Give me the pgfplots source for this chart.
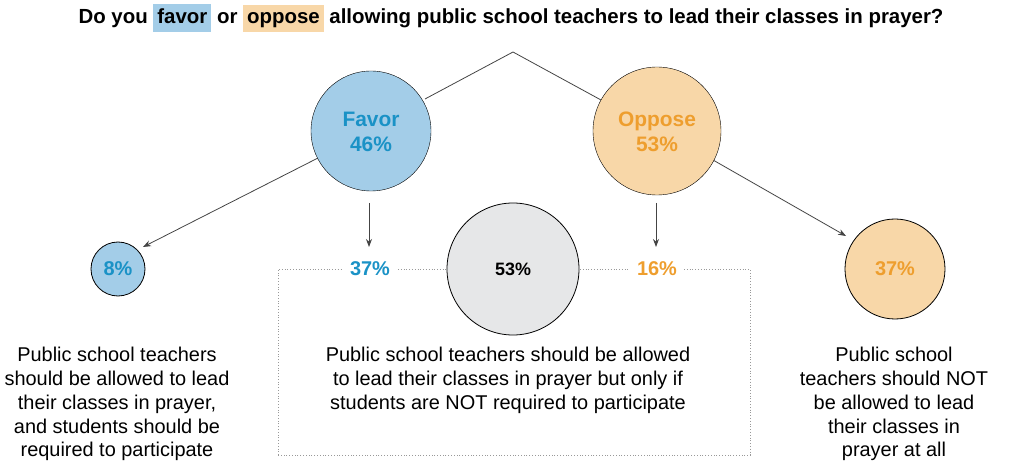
\documentclass[border=0pt]{standalone}
\usepackage{pgfplots}
\pgfplotsset{compat=1.18}
\usepackage{fontspec}
\setmainfont{Liberation Sans}
\usetikzlibrary{arrows.meta}
\definecolor{favfill}{HTML}{A3CDE8}
\definecolor{favtext}{HTML}{1A92C6}
\definecolor{oppfill}{HTML}{F8D7A8}
\definecolor{opptext}{HTML}{EE9E2E}
\definecolor{grayfill}{HTML}{E6E7E8}
\definecolor{linegray}{HTML}{444444}
\begin{document}
\begin{tikzpicture}
\begin{axis}[
  width=1024bp, height=466bp, scale only axis,
  xmin=0, xmax=1024, ymin=0, ymax=466, y dir=reverse,
  hide axis, clip=false, set layers,
]
% bubbles: center x, center y, radius in px
\addplot[only marks, mark=*, mark size=60bp, mark options={fill=favfill, draw=none}] coordinates {(371,131)};
\addplot[only marks, mark=*, mark size=64bp, mark options={fill=oppfill, draw=none}] coordinates {(657,131)};
\addplot[only marks, mark=*, mark size=27bp, mark options={fill=favfill, draw=black, line width=0.8bp}] coordinates {(118,269)};
\addplot[only marks, mark=*, mark size=66bp, mark options={fill=grayfill, draw=black, line width=0.8bp}] coordinates {(513,269)};
\addplot[only marks, mark=*, mark size=50bp, mark options={fill=oppfill, draw=black, line width=0.8bp}] coordinates {(895,269)};
% tree lines
\addplot[linegray, line width=0.8bp] coordinates {(425,99) (513,52) (601,100)};
\addplot[linegray, line width=0.8bp, -{Stealth[length=8bp,width=6bp]}] coordinates {(318,158) (143,247)};
\addplot[linegray, line width=0.8bp, -{Stealth[length=8bp,width=6bp]}] coordinates {(369,203) (369,247)};
\addplot[linegray, line width=0.8bp, -{Stealth[length=8bp,width=6bp]}] coordinates {(656,203) (656,247)};
\addplot[linegray, line width=0.8bp, -{Stealth[length=8bp,width=6bp]}] coordinates {(713,160) (846,236)};
% dotted frame
\addplot[gray!80, dotted, line width=0.8bp] coordinates {(278,455) (278,269) (343,269)};
\addplot[gray!80, dotted, line width=0.8bp] coordinates {(398,269) (447,269)};
\addplot[gray!80, dotted, line width=0.8bp] coordinates {(580,269) (630,269)};
\addplot[gray!80, dotted, line width=0.8bp] coordinates {(684,269) (750,269) (750,455) (278,455)};
% texts
\begin{pgfonlayer}{axis foreground}
\node[font=\bfseries\fontsize{20.5}{22}\selectfont] at (axis cs:511,18) {Do you \fboxsep=4bp\colorbox{favfill}{\vphantom{Ap}favor} or \fboxsep=4bp\colorbox{oppfill}{\vphantom{Ap}oppose} allowing public school teachers to lead their classes in prayer?};
\node[font=\bfseries\fontsize{21}{25}\selectfont, text=favtext, align=center] at (axis cs:371,132) {Favor\\46\%};
\node[font=\bfseries\fontsize{21}{25}\selectfont, text=opptext, align=center] at (axis cs:657,132) {Oppose\\53\%};
\node[font=\bfseries\fontsize{20}{22}\selectfont, text=favtext] at (axis cs:118,269) {8\%};
\node[font=\bfseries\fontsize{20}{22}\selectfont, text=favtext] at (axis cs:370,269) {37\%};
\node[font=\bfseries\fontsize{18}{22}\selectfont, text=black] at (axis cs:513,269) {53\%};
\node[font=\bfseries\fontsize{20}{22}\selectfont, text=opptext] at (axis cs:657,269) {16\%};
\node[font=\bfseries\fontsize{20}{22}\selectfont, text=opptext] at (axis cs:895,269) {37\%};
\node[font=\fontsize{20}{23.8}\selectfont, align=center, anchor=north] at (axis cs:117,344) {Public school teachers\\should be allowed to lead\\their classes in prayer,\\and students should be\\required to participate};
\node[font=\fontsize{20}{23.8}\selectfont, align=center, anchor=north] at (axis cs:508,344) {Public school teachers should be allowed\\to lead their classes in prayer but only if\\students are NOT required to participate};
\node[font=\fontsize{20}{23.8}\selectfont, align=center, anchor=north] at (axis cs:894,344) {Public school\\teachers should NOT\\be allowed to lead\\their classes in\\prayer at all};
\end{pgfonlayer}
\end{axis}
\pgfresetboundingbox
\useasboundingbox (current axis.south west) rectangle (current axis.north east);
\end{tikzpicture}
\end{document}
